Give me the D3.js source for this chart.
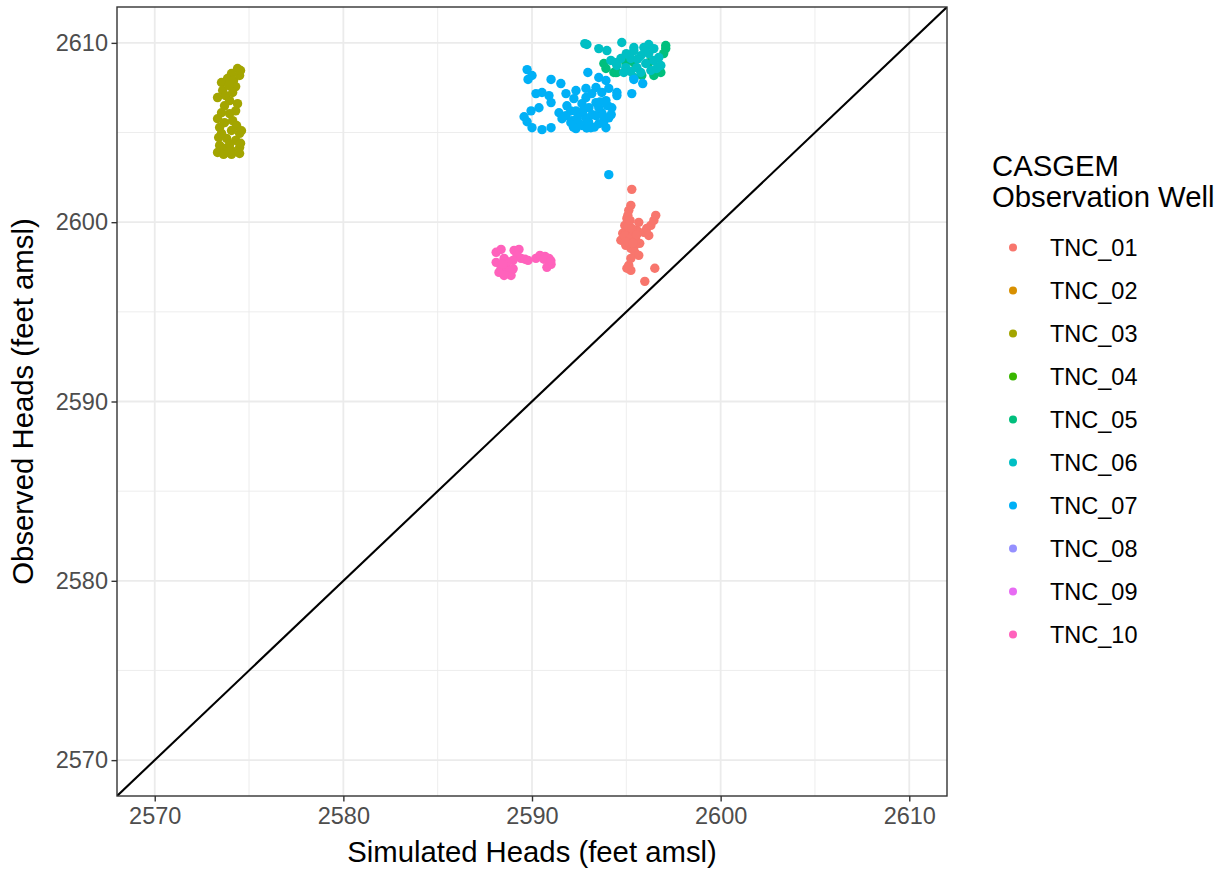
<!DOCTYPE html>
<html>
<head>
<meta charset="utf-8">
<script src="https://cdn.jsdelivr.net/npm/d3@7"></script>
<style>
  body { margin: 0; background: #fff; }
  text { font-family: "Liberation Sans", Arial, sans-serif; }
</style>
</head>
<body>
<div id="chart"></div>
<script>
// wells and ggplot hue colours
var wells = ["TNC_01", "TNC_02", "TNC_03", "TNC_04", "TNC_05", "TNC_06", "TNC_07", "TNC_08", "TNC_09", "TNC_10"];
var wellColors = ["#F8766D", "#D89000", "#A3A500", "#39B600", "#00BF7D", "#00BFC4", "#00B0F6", "#9590FF", "#E76BF3", "#FF62BC"];

var xTicks = [2570, 2580, 2590, 2600, 2610];
var yTicks = [2570, 2580, 2590, 2600, 2610];
var minorTicks = [2575, 2585, 2595, 2605];

// [simulated, observed] pairs (feet amsl)
var TNC_01 = [[2595.29,2601.83],[2595.24,2600.94],[2595.13,2600.66],[2595.03,2600.21],[2594.92,2599.82],[2595.03,2599.43],
  [2594.87,2599.10],[2595.13,2598.99],[2595.34,2599.21],[2595.45,2598.71],[2595.24,2598.54],[2594.97,2598.71],
  [2595.56,2599.54],[2595.66,2599.99],[2595.93,2599.43],[2596.08,2599.65],[2596.30,2599.82],[2596.46,2600.10],
  [2596.56,2600.38],[2596.19,2599.26],[2595.71,2598.82],[2595.45,2598.32],[2595.66,2598.15],[2595.13,2597.59],
  [2595.24,2597.31],[2595.03,2597.43],[2596.51,2597.43],[2595.98,2596.70],[2594.71,2598.99],[2594.81,2599.38],
  [2595.08,2599.76],[2595.29,2599.65],[2595.24,2597.98],[2595.08,2600.38],[2594.90,2599.25],[2595.18,2599.05],
  [2595.50,2599.00],[2594.95,2598.90],[2595.35,2598.85],[2595.20,2600.10],[2595.55,2599.30]];
var TNC_03 = [[2574.39,2608.57],[2574.07,2608.29],[2573.86,2608.01],[2573.54,2607.79],[2574.18,2607.90],[2574.29,2607.56],
  [2573.60,2607.34],[2573.33,2606.95],[2573.76,2607.06],[2573.97,2606.78],[2574.39,2606.61],[2574.29,2606.21],
  [2573.97,2606.05],[2573.54,2606.10],[2573.33,2605.77],[2573.70,2605.55],[2574.13,2605.66],[2574.34,2605.39],
  [2574.50,2604.95],[2574.07,2605.11],[2573.44,2605.28],[2573.39,2604.72],[2573.81,2604.67],[2574.29,2604.56],
  [2574.50,2604.17],[2574.07,2604.00],[2573.70,2604.11],[2573.44,2604.28],[2573.33,2603.89],[2573.65,2603.78],
  [2574.07,2603.78],[2574.50,2603.83],[2573.97,2604.34],[2573.70,2606.49],[2574.13,2607.23],[2574.50,2608.18],
  [2574.55,2608.46],[2573.92,2607.62],[2573.54,2604.95],[2574.60,2605.10],[2574.55,2604.40],[2573.90,2603.90]];
var TNC_05 = [[2597.09,2609.68],[2596.98,2609.40],[2593.92,2608.57],[2593.81,2608.85],[2594.50,2608.35],[2595.40,2608.90],
  [2595.82,2608.18],[2596.46,2608.18],[2596.83,2608.35],[2596.19,2608.90],[2594.34,2608.35],[2594.97,2608.90],
  [2597.09,2609.85],[2596.56,2608.35],[2594.44,2608.35]];
var TNC_06 = [[2592.91,2609.91],[2592.80,2609.96],[2593.54,2609.68],[2593.97,2609.57],[2594.76,2610.02],[2595.40,2609.57],
  [2595.93,2609.74],[2596.46,2609.68],[2596.19,2609.40],[2595.77,2609.29],[2595.24,2609.13],[2594.71,2609.13],
  [2594.18,2609.02],[2594.50,2608.74],[2594.97,2608.62],[2595.56,2608.62],[2596.03,2608.85],[2596.46,2609.02],
  [2596.72,2609.18],[2596.61,2608.57],[2596.30,2608.46],[2595.77,2608.35],[2595.24,2608.40],[2594.87,2608.35],
  [2594.44,2608.90],[2596.83,2608.74],[2595.40,2608.07],[2595.40,2609.74],[2596.19,2609.91],[2595.00,2609.40],
  [2595.60,2609.10],[2596.00,2609.55]];
var TNC_07 = [[2589.74,2608.51],[2590.00,2608.18],[2589.79,2607.96],[2591.01,2607.96],[2591.53,2607.73],[2590.21,2607.17],
  [2590.53,2607.23],[2590.90,2607.06],[2591.01,2606.67],[2591.80,2607.17],[2592.33,2607.34],[2592.86,2607.46],
  [2592.96,2608.35],[2593.54,2608.07],[2593.92,2607.90],[2593.39,2607.51],[2594.07,2607.46],[2594.50,2607.23],
  [2595.29,2607.17],[2595.40,2607.96],[2595.87,2607.73],[2590.37,2606.38],[2589.95,2606.21],[2589.58,2605.88],
  [2589.74,2605.60],[2590.00,2605.27],[2590.53,2605.16],[2591.01,2605.27],[2591.43,2606.10],[2591.80,2605.94],
  [2592.12,2605.66],[2592.33,2605.22],[2592.65,2605.39],[2593.12,2605.27],[2593.54,2605.49],[2593.92,2605.27],
  [2592.65,2606.61],[2593.02,2606.38],[2593.39,2606.67],[2593.70,2606.10],[2594.07,2605.82],[2592.49,2606.05],
  [2591.85,2606.49],[2592.22,2606.89],[2592.86,2606.95],[2593.92,2606.78],[2594.23,2606.38],[2593.39,2605.94],
  [2592.86,2605.82],[2592.06,2605.55],[2591.59,2605.77],[2593.17,2607.17],[2593.70,2607.23],[2593.54,2606.38],
  [2594.50,2607.06],[2592.33,2606.21],[2592.50,2605.50],[2593.00,2605.60],[2593.30,2605.30],[2592.70,2606.20],
  [2593.80,2605.60],[2592.20,2605.30],[2593.60,2606.70],[2594.20,2606.00],[2592.90,2605.25],[2593.20,2606.00],
  [2592.40,2605.80],[2593.75,2605.95],[2594.00,2606.50],[2592.05,2606.20],[2594.07,2602.65]];
var TNC_10 = [[2588.10,2598.32],[2588.36,2598.48],[2588.52,2597.98],[2588.10,2597.76],[2588.36,2597.43],[2588.25,2597.20],
  [2588.78,2597.26],[2588.89,2597.03],[2588.62,2597.54],[2589.05,2598.43],[2589.31,2598.48],[2589.21,2598.15],
  [2589.42,2597.98],[2588.99,2597.87],[2589.63,2597.93],[2589.79,2597.87],[2590.21,2597.98],[2590.42,2598.15],
  [2590.69,2598.09],[2590.90,2597.98],[2591.01,2597.65],[2590.79,2597.48],[2590.63,2597.93],[2588.52,2597.03],
  [2588.70,2597.80],[2588.45,2597.65],[2589.00,2597.40],[2591.00,2597.85]];

var series = [
  {well: "TNC_01", values: TNC_01},
  {well: "TNC_03", values: TNC_03},
  {well: "TNC_05", values: TNC_05},
  {well: "TNC_06", values: TNC_06},
  {well: "TNC_07", values: TNC_07},
  {well: "TNC_10", values: TNC_10}
];

var W = 1228, H = 873;
var panel = {left: 117, right: 947, top: 7, bottom: 796};

var x = d3.scaleLinear().domain([2568, 2612]).range([panel.left, panel.right]);
var y = d3.scaleLinear().domain([2568, 2612]).range([panel.bottom, panel.top]);
var color = d3.scaleOrdinal().domain(wells).range(wellColors);

var svg = d3.select("#chart").append("svg")
    .attr("width", W)
    .attr("height", H);

svg.append("clipPath").attr("id", "clip")
  .append("rect")
    .attr("x", panel.left).attr("y", panel.top)
    .attr("width", panel.right - panel.left).attr("height", panel.bottom - panel.top);

// grid
var grid = svg.append("g");
grid.selectAll(".vminor").data(minorTicks).enter().append("line")
    .attr("x1", function (d) { return x(d); }).attr("x2", function (d) { return x(d); })
    .attr("y1", panel.top).attr("y2", panel.bottom)
    .style("stroke", "#EBEBEB").style("stroke-width", 0.9);
grid.selectAll(".hminor").data(minorTicks).enter().append("line")
    .attr("y1", function (d) { return y(d); }).attr("y2", function (d) { return y(d); })
    .attr("x1", panel.left).attr("x2", panel.right)
    .style("stroke", "#EBEBEB").style("stroke-width", 0.9);
grid.selectAll(".vmajor").data(xTicks).enter().append("line")
    .attr("x1", function (d) { return x(d); }).attr("x2", function (d) { return x(d); })
    .attr("y1", panel.top).attr("y2", panel.bottom)
    .style("stroke", "#EBEBEB").style("stroke-width", 1.8);
grid.selectAll(".hmajor").data(yTicks).enter().append("line")
    .attr("y1", function (d) { return y(d); }).attr("y2", function (d) { return y(d); })
    .attr("x1", panel.left).attr("x2", panel.right)
    .style("stroke", "#EBEBEB").style("stroke-width", 1.8);

// points
var pts = svg.append("g").attr("clip-path", "url(#clip)");
series.forEach(function (s) {
    pts.selectAll(null).data(s.values).enter().append("circle")
        .attr("cx", function (d) { return x(d[0]); })
        .attr("cy", function (d) { return y(d[1]); })
        .attr("r", 4.7)
        .style("fill", color(s.well));
});

// 1:1 line
svg.append("line")
    .attr("clip-path", "url(#clip)")
    .attr("x1", x(2568)).attr("y1", y(2568))
    .attr("x2", x(2612)).attr("y2", y(2612))
    .style("stroke", "#000").style("stroke-width", 2.1);

// panel border
svg.append("rect")
    .attr("x", panel.left).attr("y", panel.top)
    .attr("width", panel.right - panel.left).attr("height", panel.bottom - panel.top)
    .style("fill", "none").style("stroke", "#333333").style("stroke-width", 1.4);

// axes
var xAxis = svg.append("g")
    .attr("transform", "translate(0," + panel.bottom + ")")
    .call(d3.axisBottom(x).tickValues(xTicks).tickFormat(d3.format("d")).tickSize(5.5).tickPadding(4));
var yAxis = svg.append("g")
    .attr("transform", "translate(" + panel.left + ",0)")
    .call(d3.axisLeft(y).tickValues(yTicks).tickFormat(d3.format("d")).tickSize(5.5).tickPadding(4));
[xAxis, yAxis].forEach(function (a) {
    a.select(".domain").remove();
    a.selectAll(".tick line").style("stroke", "#333333").style("stroke-width", 1.4);
    a.selectAll(".tick text")
        .style("fill", "#4D4D4D")
        .style("font-size", "23.5px")
        .style("font-family", "Liberation Sans, Arial, sans-serif");
});
xAxis.selectAll(".tick text").attr("dy", "0.72em").attr("y", 11);
yAxis.selectAll(".tick text").attr("x", -9);

// axis titles
svg.append("text")
    .attr("x", (panel.left + panel.right) / 2)
    .attr("y", 862)
    .attr("text-anchor", "middle")
    .style("font-size", "29.3px")
    .text("Simulated Heads (feet amsl)");
svg.append("text")
    .attr("transform", "translate(33," + (panel.top + panel.bottom) / 2 + ") rotate(-90)")
    .attr("text-anchor", "middle")
    .style("font-size", "29.3px")
    .text("Observed Heads (feet amsl)");

// legend
var legend = svg.append("g");
legend.append("text").attr("x", 992).attr("y", 176).style("font-size", "29.3px").text("CASGEM");
legend.append("text").attr("x", 992).attr("y", 207).style("font-size", "29.3px").text("Observation Well");
var items = legend.selectAll(".item").data(wells).enter().append("g")
    .attr("transform", function (d, i) { return "translate(0," + (247.5 + i * 43) + ")"; });
items.append("circle")
    .attr("cx", 1013).attr("cy", 0).attr("r", 4)
    .style("fill", function (d) { return color(d); });
items.append("text")
    .attr("x", 1050).attr("y", 0).attr("dy", "0.36em")
    .style("font-size", "23.5px")
    .text(function (d) { return d; });
</script>
</body>
</html>
